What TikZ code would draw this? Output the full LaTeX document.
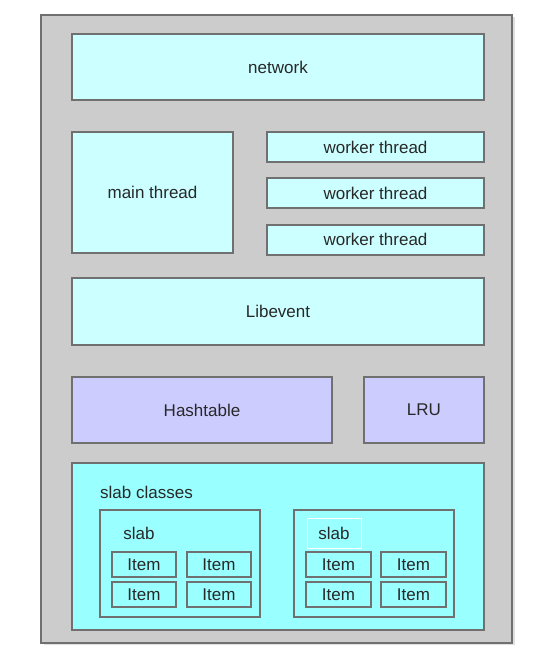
\documentclass[tikz,border=0pt]{standalone}
\usepackage{fontspec}
\setmainfont{Liberation Sans}
\usetikzlibrary{positioning,shadows}
\usepackage{xcolor}

\begin{document}
\begin{tikzpicture}[
    x=1pt, y=-1pt,
    font=\fontsize{17}{20}\selectfont,
    box/.style={draw=edgec, line width=2pt, inner sep=0pt, text=txtc},
    layer/.style={box, fill=cyanc},
    core/.style={box, fill=lavc},
    itembox/.style={box, fill=slabc, minimum width=64pt, minimum height=25pt}
  ]
    \definecolor{edgec}{RGB}{112,112,112}
    \definecolor{txtc}{RGB}{40,40,40}
    \definecolor{bgc}{RGB}{204,204,204}
    \definecolor{cyanc}{RGB}{204,255,255}
    \definecolor{slabc}{RGB}{153,255,255}
    \definecolor{lavc}{RGB}{204,204,255}

    \useasboundingbox (0,0) rectangle (539,670);

    \node[box, fill=bgc, minimum width=471pt, minimum height=628pt,
      drop shadow={shadow xshift=3pt, shadow yshift=-2pt, opacity=0.25}] (server) at (276.5,329) {};

    \node[layer, minimum width=412pt, minimum height=66pt] (network) at (278,67) {network};
    \node[layer, minimum width=161pt, minimum height=121pt] (main) at (152.5,192.5) {main thread};
    \node[layer, minimum width=217pt, minimum height=30pt] (worker1) at (375.5,147) {worker thread};
    \node[layer, minimum width=217pt, minimum height=30pt] (worker2) at (375.5,193) {worker thread};
    \node[layer, minimum width=217pt, minimum height=30pt] (worker3) at (375.5,239.5) {worker thread};
    \node[layer, minimum width=412pt, minimum height=67pt] (libevent) at (278,311.5) {Libevent};
    \node[core, minimum width=260pt, minimum height=66pt] (hash) at (202,410) {Hashtable};
    \node[core, minimum width=120pt, minimum height=66pt] (lru) at (424,410) {LRU};

    % slab classes
    \node[box, fill=slabc, minimum width=412pt, minimum height=167pt] (classes) at (278,546.5) {};
    \node[text=txtc, anchor=west, inner sep=0pt] (classlbl) at (100,492) {slab classes};

    \node[box, fill=slabc, minimum width=160pt, minimum height=107pt] (slabA) at (180,563.5) {};
    \node[text=txtc, inner sep=0pt] (slabAlbl) at (139,533) {slab};
    \node[itembox] (itemA1) at (144,564.5) {Item};
    \node[itembox] (itemA2) at (219,564.5) {Item};
    \node[itembox] (itemA3) at (144,594.5) {Item};
    \node[itembox] (itemA4) at (219,594.5) {Item};

    \node[box, fill=slabc, minimum width=160pt, minimum height=107pt] (slabB) at (374,563.5) {};
    \node[draw=white, line width=1pt, text=txtc, minimum width=54pt, minimum height=30pt, inner sep=0pt] (slabBlbl) at (334,533) {slab};
    \node[itembox, minimum width=65pt] (itemB1) at (338.5,564.5) {Item};
    \node[itembox, minimum width=65pt] (itemB2) at (413.5,564.5) {Item};
    \node[itembox, minimum width=65pt] (itemB3) at (338.5,594.5) {Item};
    \node[itembox, minimum width=65pt] (itemB4) at (413.5,594.5) {Item};
\end{tikzpicture}
\end{document}
